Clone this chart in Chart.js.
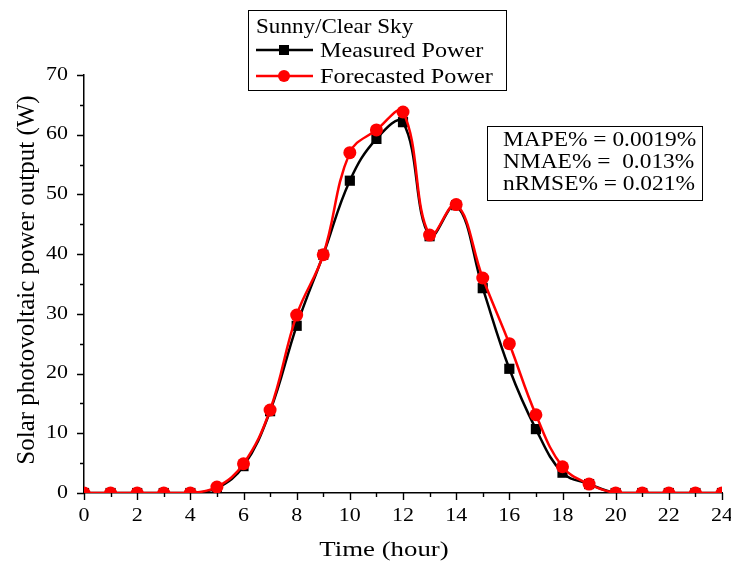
<!DOCTYPE html>
<html>
<head>
<meta charset="utf-8">
<script src="https://cdn.jsdelivr.net/npm/chart.js@4"></script>
<style>
  html, body { margin: 0; padding: 0; background: #fff; }
  #wrap { width: 731px; height: 562px; }
</style>
</head>
<body>
<div id="wrap"><canvas id="pv"></canvas></div>
<script>
const hours = [0,1,2,3,4,5,6,7,8,9,10,11,12,13,14,15,16,17,18,19,20,21,22,23,24];
const measuredPower = [0,0,0,0,0,0.8,4.5,13.7,28,39.9,52.3,59.3,62.1,43.0,48.2,34.3,20.8,10.7,3.4,1.5,0,0,0,0,0];
const forecastedPower = [0,0,0,0,0,1.0,4.9,13.9,29.8,39.9,57.0,60.8,63.8,43.2,48.3,36.0,25.0,13.1,4.4,1.5,0,0,0,0,0];
const xTickLabels = [0,2,4,6,8,10,12,14,16,18,20,22,24];
const yTickLabels = [0,10,20,30,40,50,60,70];
const legendTitle = 'Sunny/Clear Sky';
const statLines = ['MAPE% = 0.0019%', 'NMAE% =  0.013%', 'nRMSE% = 0.021%'];

const serif = '"Liberation Serif", "Times New Roman", serif';

// the original picture is a bit wider than tall, so text gets a small x stretch
function wideText(ctx, text, x, y, size, sx, align) {
    ctx.save();
    ctx.font = size + 'px ' + serif;
    ctx.textBaseline = 'middle';
    ctx.textAlign = align || 'left';
    ctx.translate(x, y);
    ctx.scale(sx, 1);
    ctx.fillText(text, 0, 0);
    ctx.restore();
}

// ticks, tick labels, titles, legend box and error box drawn by hand
const decorations = {
    id: 'decorations',
    afterDraw(chart) {
        const ctx = chart.ctx;
        const xs = chart.scales.x, ys = chart.scales.y;
        const area = chart.chartArea;
        ctx.save();
        ctx.strokeStyle = '#000';
        ctx.fillStyle = '#000';
        ctx.lineWidth = 1.4;
        ctx.beginPath();
        for (let v = 0; v <= 24; v++) {
            const px = Math.round(xs.getPixelForValue(v)) + 0.5;
            const len = v % 2 === 0 ? 7 : 4;
            ctx.moveTo(px, area.bottom);
            ctx.lineTo(px, area.bottom + len);
        }
        for (let v = 0; v <= 70; v += 5) {
            const py = Math.round(ys.getPixelForValue(v)) + 0.5;
            const len = v % 10 === 0 ? 7 : 4;
            ctx.moveTo(area.left, py);
            ctx.lineTo(area.left - len, py);
        }
        ctx.stroke();

        xTickLabels.forEach(v => {
            wideText(ctx, String(v), xs.getPixelForValue(v), area.bottom + 23, 18, 1.22, 'center');
        });
        yTickLabels.forEach(v => {
            wideText(ctx, String(v), area.left - 16, ys.getPixelForValue(v), 18, 1.22, 'right');
        });

        // axis titles
        wideText(ctx, 'Time (hour)', 384, 550, 22, 1.22, 'center');
        ctx.save();
        ctx.translate(27, 280);
        ctx.rotate(-Math.PI / 2);
        ctx.font = '25px ' + serif;
        ctx.textAlign = 'center';
        ctx.textBaseline = 'middle';
        ctx.fillText('Solar photovoltaic power output (W)', 0, 0);
        ctx.restore();

        // legend box
        ctx.lineWidth = 1;
        ctx.strokeRect(248.5, 10.5, 258, 80);
        wideText(ctx, legendTitle, 256, 27, 21, 1.1);
        const rows = [
            { y: 50, color: '#000', text: 'Measured Power', shape: 'rect' },
            { y: 76, color: '#f00', text: 'Forecasted Power', shape: 'circle' }
        ];
        rows.forEach(r => {
            ctx.strokeStyle = r.color;
            ctx.lineWidth = 2.5;
            ctx.beginPath();
            ctx.moveTo(256, r.y);
            ctx.lineTo(313, r.y);
            ctx.stroke();
            ctx.fillStyle = r.color;
            if (r.shape === 'rect') {
                ctx.fillRect(279, r.y - 5, 10, 10);
            } else {
                ctx.beginPath();
                ctx.arc(284, r.y, 6, 0, Math.PI * 2);
                ctx.fill();
            }
            ctx.fillStyle = '#000';
            wideText(ctx, r.text, 320, r.y + 1, 22, 1.1);
        });

        // error metrics box
        ctx.strokeStyle = '#000';
        ctx.lineWidth = 1;
        ctx.strokeRect(487.5, 126.5, 215, 74);
        statLines.forEach((t, i) => {
            wideText(ctx, t, 503, 141 + i * 22, 20, 1.17);
        });
        ctx.restore();
    }
};

new Chart(document.getElementById('pv'), {
    type: 'line',
    data: {
        labels: hours,
        datasets: [
            {
                label: 'Forecasted Power',
                data: hours.map((h, i) => ({ x: h, y: forecastedPower[i] })),
                borderColor: '#ff0000',
                backgroundColor: '#ff0000',
                borderWidth: 2.5,
                pointStyle: 'circle',
                pointRadius: 6.5,
                pointBorderWidth: 0,
                tension: 0.4,
                order: 0
            },
            {
                label: 'Measured Power',
                data: hours.map((h, i) => ({ x: h, y: measuredPower[i] })),
                borderColor: '#000000',
                backgroundColor: '#000000',
                borderWidth: 2.5,
                pointStyle: 'rect',
                pointRadius: 7.2,
                pointBorderWidth: 0,
                tension: 0.4,
                order: 1
            }
        ]
    },
    options: {
        responsive: true,
        maintainAspectRatio: false,
        animation: false,
        layout: { padding: { top: 75, right: 9, left: 0, bottom: 0 } },
        plugins: {
            legend: { display: false },
            tooltip: { enabled: false }
        },
        scales: {
            x: {
                type: 'linear',
                min: 0, max: 24,
                ticks: { display: false, stepSize: 2 },
                grid: { drawOnChartArea: false, drawTicks: false },
                border: { display: true, color: '#000', width: 1.5 },
                afterFit(s) { s.height = 69; }
            },
            y: {
                min: 0, max: 70,
                ticks: { display: false, stepSize: 10 },
                grid: { drawOnChartArea: false, drawTicks: false },
                border: { display: true, color: '#000', width: 1.5 },
                afterFit(s) { s.width = 84; }
            }
        }
    },
    plugins: [decorations]
});
</script>
</body>
</html>
